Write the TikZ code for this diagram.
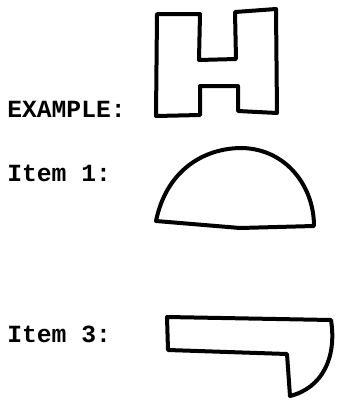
\documentclass[tikz,border=0pt]{standalone}
\usepackage{fontspec}
\setmonofont{Liberation Mono}

\begin{document}
\begin{tikzpicture}[x=0.75pt,y=0.75pt,yscale=-1,xscale=1,
  outline/.style={line width=3pt,line join=round,line cap=round},
  itemlabel/.style={font=\ttfamily\bfseries\fontsize{18.5}{20}\selectfont,anchor=base west,inner sep=0pt}]
\useasboundingbox (0,0) rectangle (337,401);

%Shape: Polygon [H]
\draw [outline] (157,14) -- (200,14) -- (199,60) -- (236,59) -- (235,12) -- (276,9) -- (277,113) -- (238,111) -- (238,86) -- (200,86) -- (200,115) -- (156,116) -- cycle ;
%Shape: Half disc
\draw [outline] (156,221) .. controls (166,172) and (202,148) .. (242,148) .. controls (286,149) and (314,186) .. (314,226) -- (240,228) -- cycle ;
%Shape: Hook
\draw [outline] (167,317) -- (331,320) .. controls (337,358) and (322,388) .. (290,396) -- (287,354) -- (168,350) -- cycle ;

% Text Node
\node [itemlabel] (example) at (7,117) {EXAMPLE:};
% Text Node
\node [itemlabel] (item1) at (7,181) {Item 1:};
% Text Node
\node [itemlabel] (item3) at (7,342) {Item 3:};

\end{tikzpicture}
\end{document}
